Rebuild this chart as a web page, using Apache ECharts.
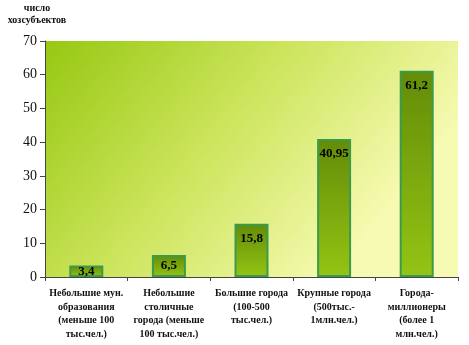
<!DOCTYPE html>
<html><head><meta charset="utf-8">
<script src="https://cdn.jsdelivr.net/npm/echarts@6/dist/echarts.min.js"></script>
<style>html,body{margin:0;padding:0;background:#fff}#c{width:469px;height:345px}</style>
</head><body><div id="c"></div>
<script>
const categories = [
  "Небольшие мун.\nобразования\n(меньше 100\nтыс.чел.)",
  "Небольшие\nстоличные\nгорода (меньше\n100 тыс.чел.)",
  "Большие города\n(100-500\nтыс.чел.)",
  "Крупные города\n(500тыс.-\n1млн.чел.)",
  "Города-\nмиллионеры\n(более 1\nмлн.чел.)"
];
const values = [3.4, 6.5, 15.8, 40.95, 61.2];
const valueLabels = ["3,4", "6,5", "15,8", "40,95", "61,2"];
const yTicks = [0, 10, 20, 30, 40, 50, 60, 70];
const axisTitle = "число\nхозсубъектов";

const chart = echarts.init(document.getElementById('c'), null, {renderer: 'canvas'});
const serif = '"Liberation Serif", "Times New Roman", serif';
chart.setOption({
  animation: false,
  grid: {left: 45, right: 11, top: 41, bottom: 68, show: true, borderWidth: 0,
    backgroundColor: new echarts.graphic.LinearGradient(0, 0, 0.7, 1, [
      {offset: 0, color: '#96c812'},
      {offset: 0.5, color: '#cbe45a'},
      {offset: 1, color: '#f7fab2'}
    ])},
  graphic: [{type: 'text', x: 37, y: 2,
    style: {text: axisTitle, font: 'bold 10px ' + serif, fill: '#111', align: 'center', textAlign: 'center', lineHeight: 12.5}}],
  xAxis: {type: 'category', data: categories,
    axisLine: {lineStyle: {color: '#444', width: 1}},
    axisTick: {show: true, length: 4, lineStyle: {color: '#444'}},
    axisLabel: {interval: 0, margin: 10, color: '#111', fontFamily: serif, fontWeight: 'bold', fontSize: 10, lineHeight: 13.5, align: 'center'}
  },
  yAxis: {type: 'value', min: 0, max: 70, interval: 10,
    axisLine: {show: true, lineStyle: {color: '#444'}},
    axisTick: {show: true, length: 5, lineStyle: {color: '#444'}},
    splitLine: {show: false},
    axisLabel: {margin: 8, color: '#111', fontFamily: serif, fontSize: 14,
      formatter: v => yTicks.includes(v) ? String(v) : ''}
  },
  series: [{type: 'bar', barWidth: 34,
    data: values.map((v, i) => ({value: v,
      label: {position: v < 10 ? 'inside' : 'insideTop', distance: 8}})),
    itemStyle: {borderColor: '#3c9a4c', borderWidth: 2,
      color: new echarts.graphic.LinearGradient(0, 0, 0, 1, [
        {offset: 0, color: '#638c08'},
        {offset: 1, color: '#94c414'}
      ])},
    label: {show: true, color: '#000', fontFamily: serif, fontWeight: 'bold', fontSize: 13,
      formatter: p => valueLabels[p.dataIndex]}
  }]
});
</script></body></html>
